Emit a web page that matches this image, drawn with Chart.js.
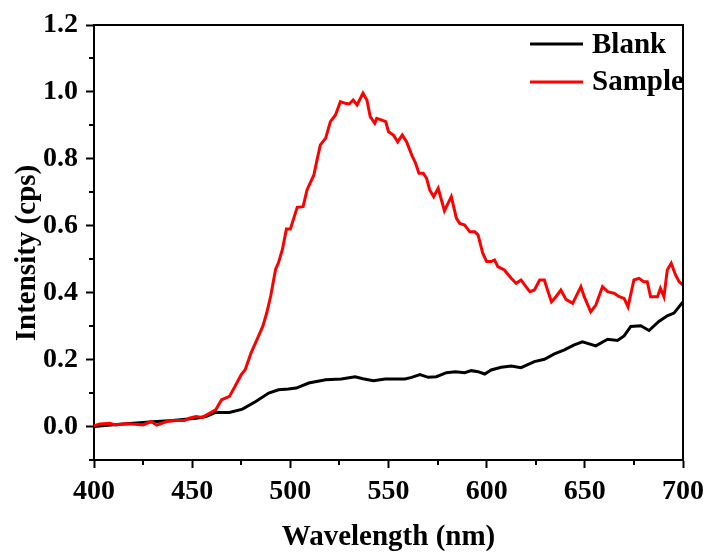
<!DOCTYPE html>
<html>
<head>
<meta charset="utf-8">
<script src="https://cdn.jsdelivr.net/npm/chart.js@4.4.1/dist/chart.umd.min.js"></script>
<style>
  html, body { margin: 0; padding: 0; background: #fff; }
  #wrap { width: 711px; height: 556px; }
</style>
</head>
<body>
<div id="wrap"><canvas id="chart" width="711" height="556"></canvas></div>
<script>
// Espectros (longitud de onda en nm, intensidad en cps)
const blankX = [400, 410, 420, 430, 440, 452, 457, 462, 469, 475.6, 482.4, 489, 494, 499, 503, 509.4, 518, 526, 533, 537, 542.3, 548.3, 558.4, 561.8, 566, 570.2, 574.4, 579.5, 584, 588.8, 592.2, 595.6, 599, 602.3, 607.4, 612.5, 617.5, 624.3, 629.4, 634.5, 639.6, 644.6, 648.8, 655.6, 661.6, 666.6, 670, 673.4, 678.5, 682.7, 687.7, 692, 695.4, 699.6, 700];
const blankY = [0.000, 0.005, 0.010, 0.014, 0.018, 0.025, 0.030, 0.042, 0.042, 0.052, 0.075, 0.100, 0.110, 0.112, 0.115, 0.130, 0.140, 0.142, 0.149, 0.143, 0.137, 0.142, 0.142, 0.147, 0.155, 0.147, 0.149, 0.161, 0.164, 0.161, 0.167, 0.164, 0.157, 0.169, 0.177, 0.181, 0.176, 0.194, 0.201, 0.217, 0.229, 0.244, 0.253, 0.241, 0.261, 0.257, 0.271, 0.299, 0.301, 0.287, 0.314, 0.331, 0.339, 0.370, 0.372];

const sampleX = [400, 403, 408, 411, 416, 421, 425, 429, 432, 437, 442, 446, 448.5, 452, 455, 459, 462, 465, 469, 472, 475, 477, 480, 483, 486, 488, 490, 492.5, 494, 496, 498, 500, 503.5, 506.5, 508.5, 512, 513.6, 515.3, 518, 520.4, 523, 525.5, 528, 530, 532, 534, 537, 539, 540.7, 543, 544, 546.6, 548.6, 550, 552.5, 554.7, 557, 559.2, 561.8, 563.8, 565.5, 567.7, 569.4, 571, 573, 575.3, 578.5, 582, 584.6, 586.3, 588.8, 591.4, 594, 595.6, 598, 600, 602.3, 604, 605.7, 609, 612.5, 615, 617.5, 620, 622, 624.3, 627, 629.4, 631, 633, 635.3, 637.8, 640.4, 643.8, 648, 649.7, 653, 655.6, 659, 661.6, 665, 667.5, 670, 672, 675, 677.6, 680, 681.8, 683.5, 687, 688.5, 690.3, 692, 694, 696.2, 698, 700];
const sampleY = [0.002, 0.008, 0.010, 0.005, 0.008, 0.007, 0.005, 0.015, 0.004, 0.015, 0.018, 0.018, 0.025, 0.030, 0.027, 0.040, 0.050, 0.080, 0.090, 0.122, 0.155, 0.170, 0.220, 0.260, 0.300, 0.340, 0.390, 0.470, 0.490, 0.530, 0.590, 0.590, 0.655, 0.657, 0.707, 0.752, 0.797, 0.842, 0.862, 0.911, 0.931, 0.971, 0.966, 0.964, 0.976, 0.961, 0.996, 0.976, 0.926, 0.906, 0.921, 0.916, 0.911, 0.881, 0.871, 0.851, 0.871, 0.851, 0.812, 0.787, 0.757, 0.757, 0.742, 0.707, 0.687, 0.712, 0.645, 0.687, 0.622, 0.607, 0.602, 0.582, 0.582, 0.573, 0.518, 0.493, 0.493, 0.498, 0.478, 0.468, 0.443, 0.428, 0.438, 0.418, 0.403, 0.408, 0.438, 0.438, 0.408, 0.373, 0.388, 0.408, 0.380, 0.368, 0.418, 0.388, 0.343, 0.363, 0.418, 0.403, 0.398, 0.388, 0.383, 0.358, 0.438, 0.443, 0.433, 0.433, 0.388, 0.388, 0.413, 0.388, 0.468, 0.488, 0.453, 0.433, 0.423];

const seriesLabels = ['Blank', 'Sample'];
const seriesColors = ['#000000', '#ff0000'];
const xTicks = [400, 450, 500, 550, 600, 650, 700];
const xMinor = [425, 475, 525, 575, 625, 675];
const yTicks = [0.0, 0.2, 0.4, 0.6, 0.8, 1.0, 1.2];
const yMinor = [-0.1, 0.1, 0.3, 0.5, 0.7, 0.9, 1.1];

const FONT = '"Liberation Serif", "Times New Roman", serif';

function toPoints(xs, ys) {
    return xs.map((x, i) => ({ x: x, y: ys[i] }));
}

// Marco, ticks menores, leyenda y titulo del eje Y
const extras = {
    id: 'extras',
    afterDraw(chart) {
        const { ctx, chartArea: a, scales: { x, y } } = chart;
        ctx.save();
        ctx.strokeStyle = '#000';
        ctx.lineWidth = 2;
        ctx.beginPath();
        ctx.moveTo(a.left, a.top);
        ctx.lineTo(a.right, a.top);
        ctx.lineTo(a.right, a.bottom);
        ctx.stroke();

        ctx.beginPath();
        xMinor.forEach(v => {
            const px = Math.round(x.getPixelForValue(v));
            ctx.moveTo(px, a.bottom);
            ctx.lineTo(px, a.bottom + 5);
        });
        yMinor.forEach(v => {
            const py = Math.round(y.getPixelForValue(v));
            ctx.moveTo(a.left, py);
            ctx.lineTo(a.left - 5, py);
        });
        ctx.stroke();

        // leyenda
        ctx.font = 'bold 29px ' + FONT;
        ctx.textBaseline = 'alphabetic';
        ctx.textAlign = 'left';
        const rows = [{ line: 44, base: 53 }, { line: 82, base: 90 }];
        chart.data.datasets.forEach((ds, i) => {
            ctx.strokeStyle = ds.borderColor;
            ctx.lineWidth = 3;
            ctx.beginPath();
            ctx.moveTo(530, rows[i].line);
            ctx.lineTo(583, rows[i].line);
            ctx.stroke();
            ctx.fillStyle = '#000';
            ctx.fillText(ds.label, 592, rows[i].base);
        });

        // titulo eje Y
        ctx.translate(28, 253);
        ctx.rotate(-Math.PI / 2);
        ctx.textAlign = 'center';
        ctx.textBaseline = 'middle';
        ctx.fillText('Intensity (cps)', 0, 0);
        ctx.restore();
    }
};

const ctx = document.getElementById('chart').getContext('2d');
const chart = new Chart(ctx, {
    type: 'line',
    data: {
        datasets: [{
            label: seriesLabels[0],
            data: toPoints(blankX, blankY),
            borderColor: seriesColors[0],
            borderWidth: 3,
            pointRadius: 0,
            tension: 0,
            order: 2
        }, {
            label: seriesLabels[1],
            data: toPoints(sampleX, sampleY),
            borderColor: seriesColors[1],
            borderWidth: 3,
            pointRadius: 0,
            tension: 0,
            order: 1
        }]
    },
    options: {
        responsive: false,
        animation: false,
        devicePixelRatio: 1,
        layout: { padding: { left: 0, right: 25, top: 25, bottom: 0 } },
        plugins: {
            legend: { display: false },
            tooltip: { enabled: false }
        },
        scales: {
            x: {
                type: 'linear',
                min: 400,
                max: 700,
                afterBuildTicks: s => { s.ticks = xTicks.map(v => ({ value: v })); },
                afterFit: s => { s.height = 96; },
                ticks: {
                    color: '#000',
                    padding: 7,
                    maxRotation: 0,
                    autoSkip: false,
                    font: { family: FONT, size: 28, weight: 'bold' }
                },
                grid: { drawOnChartArea: false, drawTicks: true, tickLength: 8, tickWidth: 2, color: '#000' },
                border: { display: true, width: 2, color: '#000' },
                title: {
                    display: true,
                    text: 'Wavelength (nm)',
                    color: '#000',
                    font: { family: FONT, size: 29, weight: 'bold' },
                    padding: { top: 0, bottom: 1 }
                }
            },
            y: {
                type: 'linear',
                min: -0.1,
                max: 1.2,
                afterBuildTicks: s => { s.ticks = yTicks.map(v => ({ value: v })); },
                afterFit: s => { s.width = 94; },
                ticks: {
                    color: '#000',
                    padding: 8,
                    font: { family: FONT, size: 28, weight: 'bold' },
                    callback: v => v.toFixed(1)
                },
                grid: { drawOnChartArea: false, drawTicks: true, tickLength: 8, tickWidth: 2, color: '#000' },
                border: { display: true, width: 2, color: '#000' }
            }
        }
    },
    plugins: [extras]
});
</script>
</body>
</html>
